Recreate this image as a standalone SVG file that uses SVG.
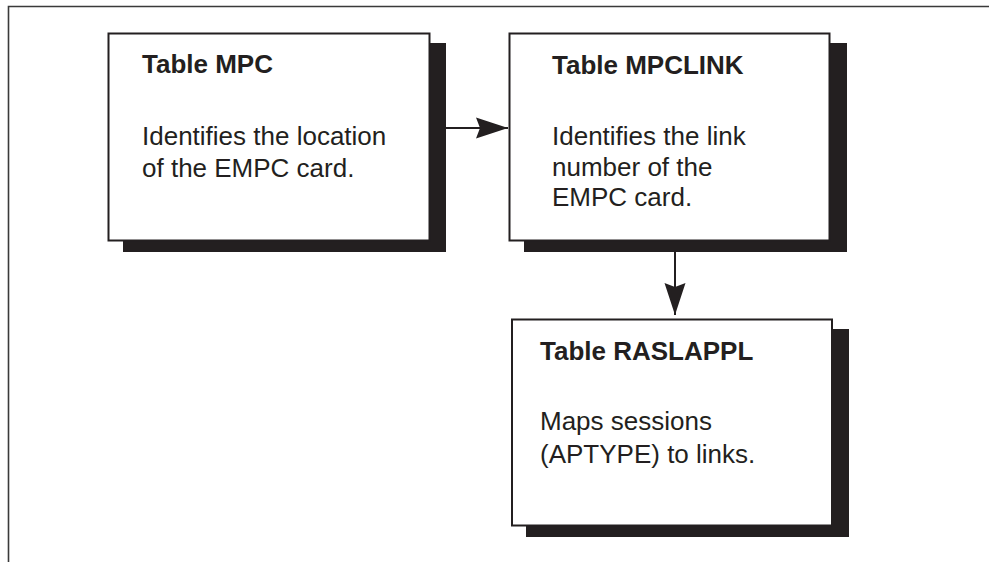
<svg xmlns="http://www.w3.org/2000/svg" width="989" height="562" viewBox="0 0 989 562">
<style>
.frame{fill:none;stroke:#3a3a3a;stroke-width:1.6}
.box{fill:#ffffff;stroke:#231f20;stroke-width:2}
.shadow{fill:#231f20;stroke:none}
.title{font-family:"Liberation Sans",Arial,sans-serif;font-weight:bold;font-size:26px;fill:#231f20}
.body{font-family:"Liberation Sans",Arial,sans-serif;font-size:26px;fill:#231f20}
.conn{fill:none;stroke:#231f20;stroke-width:2}
</style>
<defs>
<marker id="arrow" markerUnits="userSpaceOnUse" viewBox="-33 -11 34 22" markerWidth="34" markerHeight="22" refX="0" refY="0" orient="auto">
<path d="M0,0 L-32,-10.5 L-28,0 L-32,10.5 Z" fill="#231f20"/>
</marker>
</defs>
<rect width="989" height="562" fill="#ffffff"/>
<path class="frame" d="M8.5,562 L8.5,6.5 L989,6.5"/>
<g id="mpc">
<rect class="shadow" x="123" y="43" width="323" height="209"/>
<rect class="box" x="108.5" y="33.5" width="321" height="207"/>
<text class="title" x="142" y="73">Table MPC</text>
<text class="body" x="142" y="145">Identifies the location</text>
<text class="body" x="142" y="177">of the EMPC card.</text>
</g>
<g id="mpclink">
<rect class="shadow" x="524" y="43" width="323" height="209"/>
<rect class="box" x="509.5" y="33.5" width="320" height="207"/>
<text class="title" x="552" y="74">Table MPCLINK</text>
<text class="body" x="552" y="145">Identifies the link</text>
<text class="body" x="552" y="176">number of the</text>
<text class="body" x="552" y="206">EMPC card.</text>
</g>
<g id="raslappl">
<rect class="shadow" x="526" y="329" width="323" height="208"/>
<rect class="box" x="512" y="319.5" width="320" height="206"/>
<text class="title" x="540" y="360">Table RASLAPPL</text>
<text class="body" x="540" y="430">Maps sessions</text>
<text class="body" x="540" y="463">(APTYPE) to links.</text>
</g>
<g id="connectors">
<line class="conn" x1="446" y1="128" x2="508" y2="128" marker-end="url(#arrow)"/>
<line class="conn" x1="675" y1="252" x2="675" y2="315" marker-end="url(#arrow)"/>
</g>
</svg>
